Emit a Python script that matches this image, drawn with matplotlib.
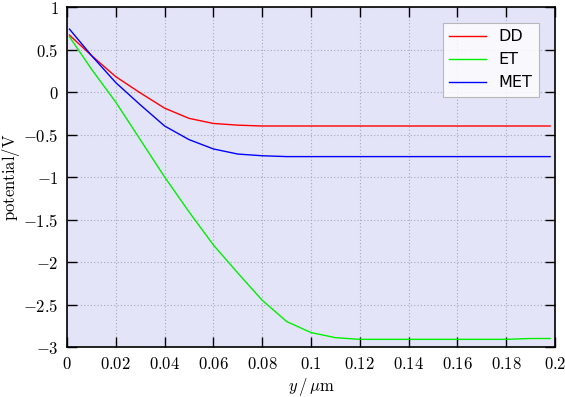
#!/usr/bin/env python3

import matplotlib
matplotlib.use('Agg')
import matplotlib.pyplot as plt
from matplotlib.ticker import FuncFormatter

plt.rcParams['mathtext.fontset'] = 'cm'

y_um = [0.001, 0.01, 0.02, 0.03, 0.04, 0.05, 0.06, 0.07, 0.08, 0.09, 0.10,
    0.11, 0.12, 0.13, 0.14, 0.15, 0.16, 0.17, 0.18, 0.19, 0.198]

pot_DD = [0.67, 0.43, 0.18, -0.01, -0.19, -0.31, -0.37, -0.39, -0.40, -0.40,
    -0.40, -0.40, -0.40, -0.40, -0.40, -0.40, -0.40, -0.40, -0.40, -0.40, -0.40]

pot_ET = [0.65, 0.27, -0.12, -0.56, -1.00, -1.41, -1.80, -2.13, -2.45, -2.70,
    -2.83, -2.89, -2.91, -2.91, -2.91, -2.91, -2.91, -2.91, -2.91, -2.90, -2.90]

pot_MET = [0.74, 0.43, 0.11, -0.15, -0.40, -0.56, -0.67, -0.73, -0.75, -0.76,
    -0.76, -0.76, -0.76, -0.76, -0.76, -0.76, -0.76, -0.76, -0.76, -0.76, -0.76]

xticks = [0, 0.02, 0.04, 0.06, 0.08, 0.1, 0.12, 0.14, 0.16, 0.18, 0.2]
yticks = [1, 0.5, 0, -0.5, -1, -1.5, -2, -2.5, -3]

fig = plt.figure(figsize=(5.65, 3.97), dpi=100)
ax = fig.add_axes([67 / 565, 1 - 347 / 397, 488 / 565, 340 / 397])
ax.set_facecolor('#e4e4f9')

ax.plot(y_um, pot_DD, color='#ff0000', lw=1.0, label='DD')
ax.plot(y_um, pot_ET, color='#00f000', lw=1.0, label='ET')
ax.plot(y_um, pot_MET, color='#0000ff', lw=1.0, label='MET')

ax.set_xlim(0, 0.2)
ax.set_ylim(-3, 1)
ax.set_xticks(xticks)
ax.set_yticks(yticks)

fmt = FuncFormatter(lambda v, pos: r'$%g$' % v)
ax.xaxis.set_major_formatter(fmt)
ax.yaxis.set_major_formatter(fmt)

ax.tick_params(direction='in', length=7, width=1.0, top=True, right=True,
    labelsize=12, pad=6)
ax.grid(True, color='#a8a8b8', linestyle=(0, (1, 2)), linewidth=0.8)

for s in ax.spines.values():
    s.set_linewidth(1.2)

ax.set_xlabel(r'$y\,/\,\mu\mathrm{m}$', fontsize=12, labelpad=2)
ax.set_ylabel(r'$\mathrm{potential/V}$', fontsize=12, labelpad=1)

leg = ax.legend(loc='upper right', fontsize=11.5, fancybox=False,
    handlelength=2.3, borderaxespad=1.0, framealpha=0.8, edgecolor='#aaaaaa')
leg.get_frame().set_linewidth(0.8)

plt.savefig('out.png', dpi=100)
